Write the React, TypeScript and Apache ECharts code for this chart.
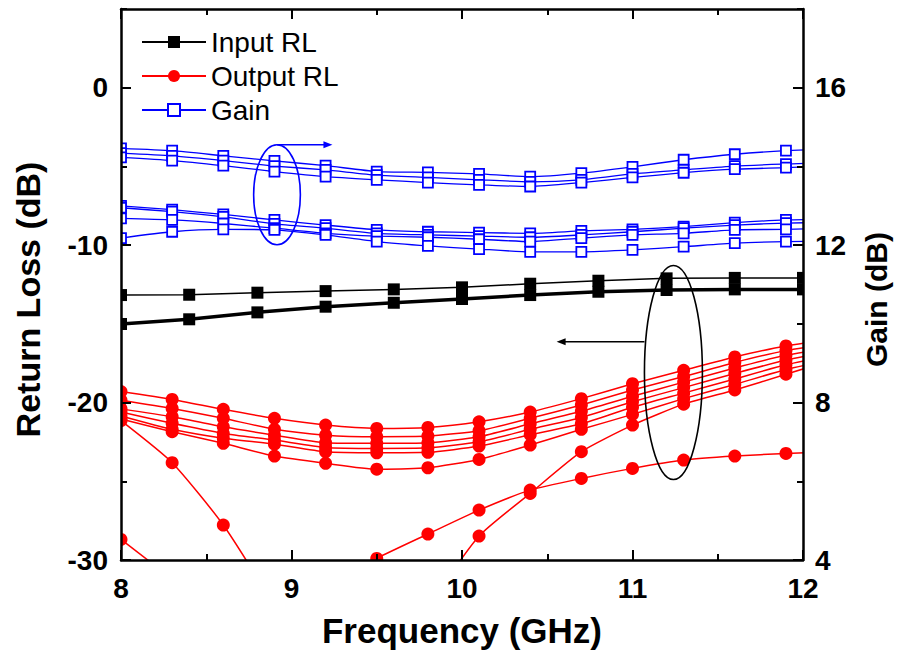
import React, { useEffect, useRef } from "react";
import * as echarts from "echarts";

// ---------- data ----------
const freqIn = [8.0, 8.4, 8.8, 9.2, 9.6, 10.0, 10.4, 10.8, 11.2, 11.6, 12.0];
const inputRLThin = [-13.17, -13.15, -13.02, -12.92, -12.81, -12.68, -12.45, -12.26, -12.11, -12.08, -12.08];
const inputRLThick = [-15.01, -14.71, -14.27, -13.91, -13.66, -13.42, -13.17, -12.96, -12.85, -12.81, -12.81];

const freqOut = [8.0, 8.3, 8.6, 8.9, 9.2, 9.5, 9.8, 10.1, 10.4, 10.7, 11.0, 11.3, 11.6, 11.9, 12.2];
const outRL1 = [-19.3, -19.8, -20.43, -21.0, -21.43, -21.64, -21.58, -21.22, -20.6, -19.75, -18.8, -17.95, -17.1, -16.4, -15.95];
const outRL2 = [-19.85, -20.37, -21.0, -21.7, -22.07, -22.17, -22.13, -21.79, -21.0, -20.15, -19.2, -18.35, -17.45, -16.7, -16.2];
const outRL3 = [-20.4, -20.9, -21.54, -22.07, -22.55, -22.59, -22.55, -22.17, -21.35, -20.55, -19.6, -18.7, -17.8, -17.0, -16.45];
const outRL4 = [-20.6, -21.32, -21.96, -22.38, -22.85, -22.91, -22.87, -22.49, -21.7, -20.95, -19.95, -19.05, -18.15, -17.3, -16.7];
const outRL5 = [-20.85, -21.7, -22.27, -22.64, -23.13, -23.19, -23.16, -22.76, -22.05, -21.35, -20.3, -19.4, -18.5, -17.6, -16.95];
const outRL6 = [-21.05, -21.85, -22.59, -23.4, -23.86, -24.23, -24.14, -23.61, -22.7, -21.7, -20.75, -19.75, -18.85, -17.9, -17.2];

const freqOutA = [8.0, 8.3, 8.6, 8.9];
const outRLA = [-21.15, -23.82, -27.78, -32.9];
const freqOutB = [8.0, 8.3];
const outRLB = [-28.69, -31.2];
const freqOutC = [9.2, 9.5, 9.8, 10.1, 10.4, 10.7, 11.0, 11.3, 11.6, 11.9, 12.2];
const outRLC = [-31.8, -29.9, -28.35, -26.83, -25.56, -24.82, -24.18, -23.65, -23.4, -23.23, -23.1];
const freqOutD = [9.8, 10.1, 10.4, 10.7, 11.0, 11.3, 11.6, 11.9, 12.2];
const outRLD = [-33.0, -28.48, -25.77, -23.12, -21.43, -20.1, -19.2, -18.2, -17.2];

const gain1 = [14.46, 14.4, 14.27, 14.14, 14.02, 13.87, 13.85, 13.81, 13.74, 13.83, 13.99, 14.17, 14.31, 14.4, 14.45];
const gain2 = [14.34, 14.27, 14.15, 14.01, 13.91, 13.78, 13.72, 13.66, 13.61, 13.66, 13.81, 13.91, 14.01, 14.06, 14.1];
const gain3 = [14.23, 14.15, 14.02, 13.87, 13.74, 13.66, 13.59, 13.53, 13.49, 13.59, 13.72, 13.84, 13.93, 13.97, 14.02];
const gain4 = [13.0, 12.9, 12.78, 12.64, 12.51, 12.39, 12.34, 12.32, 12.3, 12.36, 12.4, 12.47, 12.57, 12.64, 12.66];
const gain5 = [12.95, 12.85, 12.72, 12.54, 12.43, 12.3, 12.26, 12.23, 12.2, 12.26, 12.34, 12.43, 12.51, 12.56, 12.58];
const gain6 = [12.68, 12.64, 12.55, 12.43, 12.3, 12.23, 12.2, 12.15, 12.09, 12.18, 12.26, 12.3, 12.39, 12.4, 12.44];
const gain7 = [12.18, 12.34, 12.4, 12.39, 12.26, 12.09, 11.98, 11.9, 11.83, 11.83, 11.88, 11.96, 12.05, 12.09, 12.1];

const legendNames = ["Input RL", "Output RL", "Gain"];
const xTitle = "Frequency (GHz)";
const yLeftTitle = "Return Loss (dB)";
const yRightTitle = "Gain (dB)";

// annotation anchors (data units)
const blueEllipse = { cx: 8.915, cy: 13.28, rx: 0.137, ry: 1.27 }; // gain axis
const blueArrow = { x1: 8.915, x2: 9.24, y: 14.55 }; // gain axis
const blackEllipse = { cx: 11.24, cy: -18.09, rx: 0.17, ry: 6.8 }; // RL axis
const blackArrow = { x1: 11.07, x2: 10.555, y: -16.14 }; // RL axis

const FONT = "'Liberation Sans', Arial, Helvetica, sans-serif";
const BLUE = "#0000ff";
const RED = "#ff0000";

const pairs = (xs: number[], ys: number[]) => xs.map((x, i) => [x, ys[i]]);

function App() {
  const ref = useRef<HTMLDivElement>(null);
  useEffect(() => {
    if (!ref.current) return;
    const chart = echarts.init(ref.current, null, { renderer: "svg" });

    const inputSeries = (ys: number[], w: number) => ({
      name: "Input RL",
      type: "line",
      xAxisIndex: 0,
      yAxisIndex: 0,
      data: pairs(freqIn, ys),
      symbol: "rect",
      symbolSize: 12,
      clip: true,
      lineStyle: { color: "#000", width: w },
      itemStyle: { color: "#000" },
      z: 3,
    });
    const outSeries = (xs: number[], ys: number[]) => ({
      name: "Output RL",
      type: "line",
      xAxisIndex: 0,
      yAxisIndex: 0,
      data: pairs(xs, ys),
      symbol: "circle",
      symbolSize: 13,
      smooth: 0.2,
      clip: true,
      lineStyle: { color: RED, width: 1.5 },
      itemStyle: { color: RED },
      z: 2,
    });
    const gainSeries = (ys: number[]) => ({
      name: "Gain",
      type: "line",
      xAxisIndex: 0,
      yAxisIndex: 1,
      data: pairs(freqOut, ys),
      symbol: "rect",
      symbolSize: 10,
      smooth: 0.2,
      clip: true,
      lineStyle: { color: BLUE, width: 1.3 },
      itemStyle: { color: "#fff", borderColor: BLUE, borderWidth: 1.8 },
      z: 2,
    });

    const tickLabel = { fontSize: 28, fontWeight: "bold", color: "#000", fontFamily: FONT };
    const axisLine = { show: true, onZero: false, lineStyle: { color: "#000", width: 2.5 } };

    const option: any = {
      animation: false,
      backgroundColor: "#fff",
      grid: { left: 121, right: 98, top: 9, bottom: 103, containLabel: false, outerBoundsMode: "none" },
      legend: {
        data: [
          { name: legendNames[0] },
          { name: legendNames[1] },
          { name: legendNames[2] },
        ],
        orient: "vertical",
        left: 136,
        top: 22,
        itemWidth: 64,
        itemHeight: 15,
        itemGap: 4,
        z: 20,
        textStyle: { fontSize: 28, color: "#000", fontFamily: FONT, lineHeight: 30 },
      },
      xAxis: [
        {
          type: "value",
          position: "bottom",
          min: 8,
          max: 12,
          interval: 1,
          z: 10,
          axisLine,
          axisTick: { show: true, inside: true, length: 10, lineStyle: { color: "#000", width: 2 } },
          minorTick: { show: true, splitNumber: 2, length: 6, lineStyle: { color: "#000", width: 2 } },
          axisLabel: { ...tickLabel, margin: 14 },
          splitLine: { show: false },
          name: xTitle,
          nameLocation: "middle",
          nameGap: 53,
          nameTextStyle: { fontSize: 35, fontWeight: "bold", color: "#000", fontFamily: FONT },
        },
        {
          type: "value",
          position: "top",
          min: 8,
          max: 12,
          interval: 1,
          z: 10,
          axisLine,
          axisTick: { show: true, inside: true, length: 10, lineStyle: { color: "#000", width: 2 } },
          minorTick: { show: true, splitNumber: 2, length: 6, lineStyle: { color: "#000", width: 2 } },
          axisLabel: { show: false },
          splitLine: { show: false },
        },
      ],
      yAxis: [
        {
          type: "value",
          position: "left",
          min: -30,
          max: 5,
          interval: 10,
          z: 10,
          axisLine,
          axisTick: { show: true, inside: true, length: 10, lineStyle: { color: "#000", width: 2 } },
          axisLabel: { ...tickLabel, margin: 13, showMaxLabel: false },
          splitLine: { show: false },
          name: yLeftTitle,
          nameLocation: "middle",
          nameRotate: 90,
          nameGap: 76,
          nameTextStyle: { fontSize: 34, fontWeight: "bold", color: "#000", fontFamily: FONT, padding: [0, 30, 0, 0] },
        },
        {
          type: "value",
          position: "right",
          min: 4,
          max: 18,
          interval: 4,
          z: 10,
          axisLine,
          axisTick: { show: true, inside: true, length: 10, lineStyle: { color: "#000", width: 2 } },
          axisLabel: { ...tickLabel, margin: 12, showMaxLabel: false },
          splitLine: { show: false },
          name: yRightTitle,
          nameLocation: "middle",
          nameRotate: 90,
          nameGap: 58,
          nameTextStyle: { fontSize: 30, fontWeight: "bold", color: "#000", fontFamily: FONT, padding: [0, 30, 0, 0] },
        },
        {
          type: "value",
          position: "left",
          min: -30,
          max: 5,
          interval: 5,
          z: 10,
          axisLine: { show: false, onZero: false },
          axisTick: { show: true, inside: true, length: 6, lineStyle: { color: "#000", width: 2 } },
          axisLabel: { show: false },
          splitLine: { show: false },
        },
        {
          type: "value",
          position: "right",
          min: 4,
          max: 18,
          interval: 2,
          z: 10,
          axisLine: { show: false, onZero: false },
          axisTick: { show: true, inside: true, length: 6, lineStyle: { color: "#000", width: 2 } },
          axisLabel: { show: false },
          splitLine: { show: false },
        },
      ],
      series: [
        inputSeries(inputRLThin, 1.5),
        inputSeries(inputRLThick, 3.5),
        outSeries(freqOut, outRL1),
        outSeries(freqOut, outRL2),
        outSeries(freqOut, outRL3),
        outSeries(freqOut, outRL4),
        outSeries(freqOut, outRL5),
        outSeries(freqOut, outRL6),
        outSeries(freqOutA, outRLA),
        outSeries(freqOutB, outRLB),
        outSeries(freqOutC, outRLC),
        outSeries(freqOutD, outRLD),
        gainSeries(gain1),
        gainSeries(gain2),
        gainSeries(gain3),
        gainSeries(gain4),
        gainSeries(gain5),
        gainSeries(gain6),
        gainSeries(gain7),
      ],
    };
    chart.setOption(option);

    // annotations and outer masks positioned through the axes
    const rl = (p: number[]) => chart.convertToPixel({ xAxisIndex: 0, yAxisIndex: 0 }, p) as number[];
    const gn = (p: number[]) => chart.convertToPixel({ xAxisIndex: 0, yAxisIndex: 1 }, p) as number[];
    const W = chart.getWidth();
    const H = chart.getHeight();
    const tl = rl([8, 5]);
    const br = rl([12, -30]);

    const bc = gn([blueEllipse.cx, blueEllipse.cy]);
    const brx = gn([blueEllipse.cx + blueEllipse.rx, blueEllipse.cy])[0] - bc[0];
    const bry = bc[1] - gn([blueEllipse.cx, blueEllipse.cy + blueEllipse.ry])[1];
    const ba1 = gn([blueArrow.x1, blueArrow.y]);
    const ba2 = gn([blueArrow.x2, blueArrow.y]);

    const kc = rl([blackEllipse.cx, blackEllipse.cy]);
    const krx = rl([blackEllipse.cx + blackEllipse.rx, blackEllipse.cy])[0] - kc[0];
    const kry = kc[1] - rl([blackEllipse.cx, blackEllipse.cy + blackEllipse.ry])[1];
    const ka1 = rl([blackArrow.x1, blackArrow.y]);
    const ka2 = rl([blackArrow.x2, blackArrow.y]);

    const mask = (x: number, y: number, w: number, h: number) => ({
      type: "rect",
      z: 5,
      silent: true,
      shape: { x, y, width: w, height: h },
      style: { fill: "#fff" },
    });

    chart.setOption({
      graphic: [
        mask(0, 0, tl[0], H),
        mask(br[0], 0, W - br[0], H),
        mask(0, 0, W, tl[1]),
        mask(0, br[1], W, H - br[1]),
        {
          type: "ellipse",
          z: 6,
          shape: { cx: bc[0], cy: bc[1], rx: brx, ry: bry },
          style: { fill: "none", stroke: BLUE, lineWidth: 1.6 },
        },
        {
          type: "line",
          z: 6,
          shape: { x1: ba1[0], y1: ba1[1], x2: ba2[0] - 6, y2: ba2[1] },
          style: { stroke: BLUE, lineWidth: 1.6 },
        },
        {
          type: "polygon",
          z: 6,
          shape: { points: [[ba2[0], ba2[1]], [ba2[0] - 9, ba2[1] - 3.5], [ba2[0] - 9, ba2[1] + 3.5]] },
          style: { fill: BLUE },
        },
        {
          type: "ellipse",
          z: 6,
          shape: { cx: kc[0], cy: kc[1], rx: krx, ry: kry },
          style: { fill: "none", stroke: "#000", lineWidth: 1.6 },
        },
        {
          type: "line",
          z: 6,
          shape: { x1: ka1[0], y1: ka1[1], x2: ka2[0] + 6, y2: ka2[1] },
          style: { stroke: "#000", lineWidth: 1.6 },
        },
        {
          type: "polygon",
          z: 6,
          shape: { points: [[ka2[0], ka2[1]], [ka2[0] + 9, ka2[1] - 3.5], [ka2[0] + 9, ka2[1] + 3.5]] },
          style: { fill: "#000" },
        },
      ],
    });

    return () => chart.dispose();
  }, []);

  return (
    <div
      ref={ref}
      style={{ position: "fixed", left: 0, top: 0, width: 901, height: 663, background: "#fff" }}
    />
  );
}

export default App;
